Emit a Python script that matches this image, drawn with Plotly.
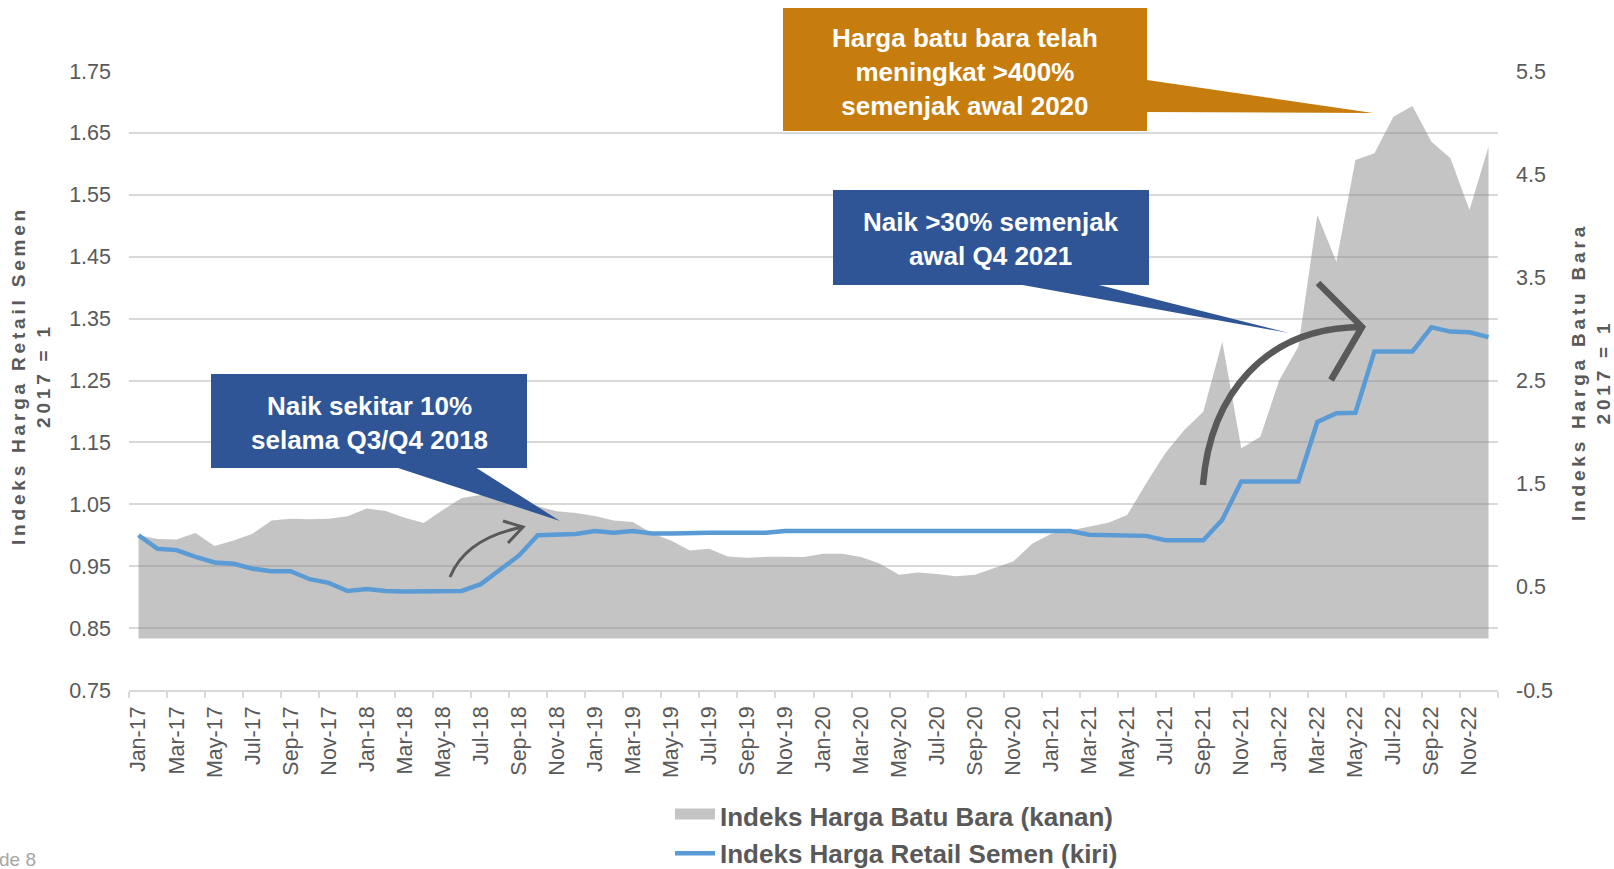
import plotly.graph_objects as go

# --- data ---------------------------------------------------------------
MONTH_ABBR = ["Jan", "Feb", "Mar", "Apr", "May", "Jun",
              "Jul", "Aug", "Sep", "Oct", "Nov", "Dec"]
months = [f"{m}-{y}" for y in range(17, 23) for m in MONTH_ABBR]

# coal price index (right axis), 2017 = 1
coal_index = [
    1.00, 0.963, 0.96, 1.021, 0.895, 0.95, 1.015, 1.144, 1.16, 1.154, 1.16, 1.183,
    1.26, 1.235, 1.17, 1.118, 1.245, 1.36, 1.39, 1.39, 1.34, 1.28, 1.232, 1.216,
    1.187, 1.144, 1.128, 1.02, 0.95, 0.852, 0.869, 0.794, 0.781, 0.791, 0.791, 0.788,
    0.82, 0.82, 0.788, 0.723, 0.616, 0.638, 0.625, 0.603, 0.616, 0.684, 0.745, 0.917,
    1.015, 1.047, 1.086, 1.122, 1.196, 1.503, 1.794, 2.02, 2.198, 2.876, 1.843, 1.955,
    2.505, 2.828, 4.104, 3.651, 4.637, 4.702, 5.057, 5.16, 4.815, 4.654, 4.152, 4.766,
]

# cement retail price index (left axis), 2017 = 1
cement_index = [
    1.000, 0.978, 0.976, 0.965, 0.956, 0.954, 0.946, 0.942, 0.942, 0.929, 0.923, 0.910,
    0.913, 0.910, 0.909, 0.909, 0.909, 0.910, 0.921, 0.944, 0.967, 1.000, 1.001, 1.002,
    1.007, 1.004, 1.007, 1.003, 1.003, 1.004, 1.004, 1.004, 1.004, 1.004, 1.007, 1.007,
    1.007, 1.007, 1.007, 1.007, 1.007, 1.007, 1.007, 1.007, 1.007, 1.007, 1.007, 1.007,
    1.007, 1.007, 1.001, 1.000, 0.999, 0.999, 0.992, 0.992, 0.992, 1.025, 1.087, 1.087,
    1.087, 1.087, 1.183, 1.197, 1.198, 1.297, 1.297, 1.297, 1.336, 1.329, 1.328, 1.320,
]

left_ticks = [0.75, 0.85, 0.95, 1.05, 1.15, 1.25, 1.35, 1.45, 1.55, 1.65, 1.75]
right_ticks = [-0.5, 0.5, 1.5, 2.5, 3.5, 4.5, 5.5]
right_labels = ["-0.5", "0.5", "1.5", "2.5", "3.5", "4.5", "5.5"]

coal_name = "Indeks Harga Batu Bara (kanan)"
cement_name = "Indeks Harga Retail Semen (kiri)"
left_title = ["Indeks Harga Retail Semen", "2017 = 1"]
right_title = ["Indeks Harga Batu Bara", "2017 = 1"]
note_orange = "Harga batu bara telah<br>meningkat >400%<br>semenjak awal 2020"
note_blue_2021 = "Naik >30% semenjak<br>awal Q4 2021"
note_blue_2018 = "Naik sekitar 10%<br>selama Q3/Q4 2018"

# --- styling ------------------------------------------------------------
FONT = "Liberation Sans, Arial, sans-serif"
TXT = "#595959"
GRID = "#d9d9d9"
BLUE_LINE = "#5B9BD5"
BOX_BLUE = "#2F5597"
BOX_ORANGE = "#C77C0E"
AREA = "rgba(137,137,137,0.5)"

W, H = 1614, 869
L, R, T, B = 129, 1498, 71, 690


def px(x):
    return (x - L) / (R - L)


def py(y):
    return (B - y) / (B - T)


def spaced(s):
    return "\u2009".join(s)


fig = go.Figure()
fig.add_trace(go.Scatter(
    x=months, y=coal_index, name=coal_name, mode="lines", fill="tozeroy",
    fillcolor=AREA, line=dict(width=0, color=AREA), showlegend=False,
    hoverinfo="skip"))
# legend swatch for the area
fig.add_trace(go.Scatter(
    x=[None], y=[None], name=coal_name, mode="lines", fill="tozeroy",
    fillcolor="#c4c4c4", line=dict(width=10, color="#c4c4c4"),
    legendgroup="coal"))
fig.add_trace(go.Scatter(
    x=months, y=cement_index, name=cement_name, mode="lines", yaxis="y2",
    line=dict(color=BLUE_LINE, width=4.5), legendgroup="cement"))

tickfont = dict(family=FONT, size=21.5, color=TXT)

fig.update_layout(
    width=W, height=H,
    margin=dict(l=L, r=W - R, t=T, b=H - B, autoexpand=False),
    paper_bgcolor="white", plot_bgcolor="white",
    font=dict(family=FONT, color=TXT),
    xaxis=dict(
        type="category", categoryorder="array", categoryarray=months,
        range=[-0.5, 71.5], tickmode="linear", tick0=0, dtick=2,
        tickson="boundaries", ticks="outside", ticklen=6, tickwidth=1.5,
        tickcolor=GRID, showline=True, linecolor=GRID, linewidth=1.5,
        showgrid=False, tickangle=-90, tickfont=tickfont, ticklabelstandoff=6),
    yaxis=dict(
        side="right", range=[-0.5, 5.5], tickmode="array", tickvals=right_ticks,
        ticktext=right_labels, showgrid=False, zeroline=False, showline=False,
        tickfont=tickfont, ticklabelstandoff=17),
    yaxis2=dict(
        overlaying="y", side="left", range=[0.75, 1.75], tickmode="array",
        tickvals=left_ticks, tickformat=".2f", showgrid=True, gridcolor=GRID,
        gridwidth=1.5, zeroline=False, showline=False, tickfont=tickfont,
        ticklabelstandoff=17),
    legend=dict(
        orientation="v", x=px(670), xanchor="left", y=py(792), yanchor="top",
        font=dict(family=FONT, size=26, color=TXT, weight="bold"),
        itemwidth=40, traceorder="grouped", tracegroupgap=1,
        bgcolor="rgba(0,0,0,0)"),
    showlegend=True,
)

shapes = []
# callout boxes with pointers
callouts = [
    (783, 8, 1147, 131, BOX_ORANGE, [(1147, 80), (1147, 112), (1373, 113)]),
    (833, 190, 1149, 285, BOX_BLUE, [(1017, 284), (1095, 284), (1289, 333)]),
    (211, 374, 527, 468, BOX_BLUE, [(395, 467), (475, 467), (560, 521)]),
]
for x0, y0, x1, y1, col, tri in callouts:
    shapes.append(dict(type="rect", xref="paper", yref="paper",
                       x0=px(x0), x1=px(x1), y0=py(y1), y1=py(y0),
                       fillcolor=col, line=dict(width=0), layer="above"))
    path = "M{},{} L{},{} L{},{} Z".format(
        px(tri[0][0]), py(tri[0][1]), px(tri[1][0]), py(tri[1][1]),
        px(tri[2][0]), py(tri[2][1]))
    shapes.append(dict(type="path", xref="paper", yref="paper", path=path,
                       fillcolor=col, line=dict(width=0), layer="above"))

# hand-drawn style arrows
small_curve = "M{},{} Q{},{} {},{}".format(
    px(450), py(577), px(466), py(538), px(523), py(527))
small_head = "M{},{} L{},{} L{},{}".format(
    px(503), py(521), px(523), py(527), px(508), py(543))
big_curve = "M{},{} C{},{} {},{} {},{}".format(
    px(1203), py(485), px(1210), py(395), px(1265), py(327), px(1362), py(327))
big_head = "M{},{} L{},{} L{},{}".format(
    px(1318), py(283), px(1362), py(327), px(1331), py(380))
for p, w in [(small_curve, 3), (small_head, 3), (big_curve, 6.5), (big_head, 6.5)]:
    shapes.append(dict(type="path", xref="paper", yref="paper", path=p,
                       line=dict(color="#595959", width=w), layer="above"))
fig.update_layout(shapes=shapes)

box_font = dict(family=FONT, size=26, color="white", weight="bold")
title_font = dict(family=FONT, size=19, color=TXT, weight="bold")
annotations = [
    dict(text=note_orange, x=px(965), y=py(72), font=box_font),
    dict(text=note_blue_2021, x=px(991), y=py(239), font=box_font),
    dict(text=note_blue_2018, x=px(369), y=py(423), font=box_font),
    dict(text=spaced(left_title[0]) + "<br>" + spaced(left_title[1]),
         x=px(31), y=py(378), textangle=-90, font=title_font),
    dict(text=spaced(right_title[0]) + "<br>" + spaced(right_title[1]),
         x=px(1591), y=py(374), textangle=-90, font=title_font),
    dict(text="de 8", x=px(-3), y=py(859), xanchor="left",
         font=dict(family=FONT, size=19, color="#a6a6a6")),
]
for a in annotations:
    a.setdefault("xanchor", "center")
    a.update(xref="paper", yref="paper", yanchor="middle", showarrow=False)
fig.update_layout(annotations=annotations)

# drop the default page margin so the figure sits at the window origin
fig.write_html("out.html", config={"displayModeBar": False},
               post_script="document.body.style.margin='0';")
